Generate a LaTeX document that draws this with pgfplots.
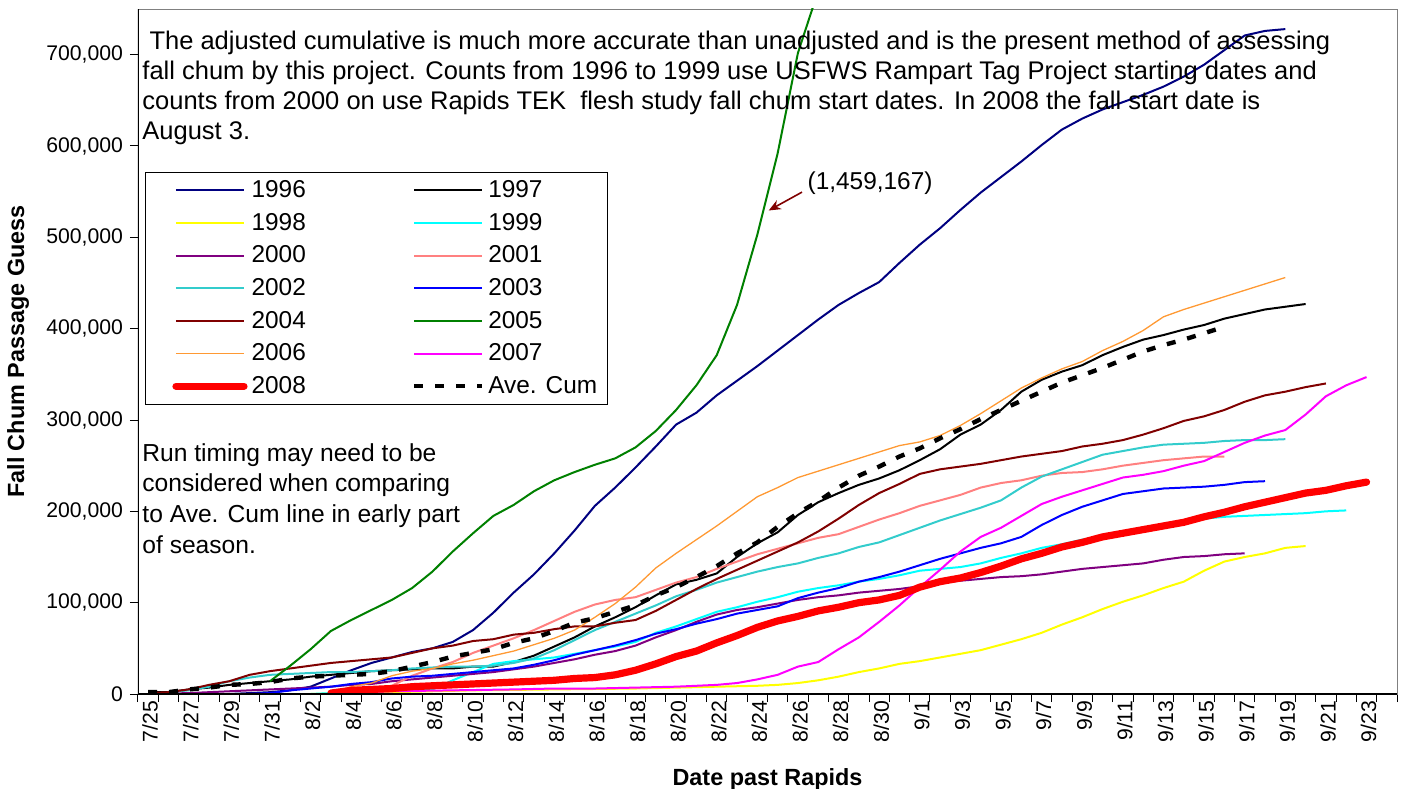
\documentclass[border=0pt]{standalone}
\usepackage{fontspec}
\setmainfont{Liberation Sans}
\usepackage{pgfplots}
\pgfplotsset{compat=1.18}
\usetikzlibrary{arrows.meta}

\definecolor{c1996}{HTML}{000080}
\definecolor{c1998}{HTML}{FFFF00}
\definecolor{c1999}{HTML}{00FFFF}
\definecolor{c2000}{HTML}{800080}
\definecolor{c2001}{HTML}{FF8080}
\definecolor{c2002}{HTML}{33CCCC}
\definecolor{c2003}{HTML}{0000FF}
\definecolor{c2004}{HTML}{800000}
\definecolor{c2005}{HTML}{008000}
\definecolor{c2006}{HTML}{FF9933}
\definecolor{c2007}{HTML}{FF00FF}
\definecolor{c2008}{HTML}{FF0000}

\begin{document}
\begin{tikzpicture}
\begin{axis}[
  name=ax,
  scale only axis,
  width=629.5pt, height=342.5pt,
  xmin=-0.5, xmax=61.5, ymin=0, ymax=750000,
  clip=true,
  axis line style={draw=gray},
  tick style={black, line width=0.5pt},
  tick align=outside, tick pos=left,
  major tick length=4pt,
  xtick={-0.5,0.5,...,61.5},
  xticklabels={},
  extra x ticks={0,2,...,60},
  extra x tick labels={7/25,7/27,7/29,7/31,8/2,8/4,8/6,8/8,8/10,8/12,8/14,8/16,8/18,8/20,8/22,8/24,8/26,8/28,8/30,9/1,9/3,9/5,9/7,9/9,9/11,9/13,9/15,9/17,9/19,9/21,9/23},
  extra x tick style={major tick length=0pt, tick label style={rotate=90, anchor=east, yshift=-1pt}},
  ytick={0,100000,200000,300000,400000,500000,600000,700000},
  scaled y ticks=false,
  yticklabel style={/pgf/number format/.cd, fixed, 1000 sep={,}, assume math mode=true},
  tick label style={font=\fontsize{10.6}{12}\selectfont},
  xlabel={Date past Rapids},
  ylabel={Fall Chum Passage Guess},
  xlabel style={at={(axis description cs:0.5,-0.1343)}, anchor=base, font=\bfseries\fontsize{11.7}{14}\selectfont},
  ylabel style={at={(axis description cs:-0.0953,0.5)}, anchor=center, rotate=0, font=\bfseries\fontsize{11.7}{14}\selectfont},
  legend columns=2,
  legend cell align=left,
  legend image code/.code={\path (0pt,0pt); \draw[#1] (10.5pt,0pt) -- (44.5pt,0pt);},
  legend style={at={(axis description cs:0.00556,0.762)}, anchor=north west, draw=black, fill=white,
    font=\fontsize{12.2}{14}\selectfont, inner xsep=3pt, inner ysep=2pt, row sep=2.3pt,
    /tikz/every even column/.append style={column sep=40.5pt}},
  every axis plot/.append style={no markers, line join=round},
]
% 1996
\addplot[c1996, line width=1pt] coordinates {(4,0)(5,1000)(6,2000)(7,4000)(8,8000)(9,17000)(10,26000)(11,34000)(12,40000)(13,46000)(14,50000)(15,57000)(16,70000)(17,89000)(18,111000)(19,131000)(20,154000)(21,179000)(22,206000)(23,226000)(24,248000)(25,271000)(26,295000)(27,308000)(28,327000)(29,343000)(30,359000)(31,376000)(32,393000)(33,410000)(34,426000)(35,439000)(36,451000)(37,472000)(38,492000)(39,510000)(40,530000)(41,549000)(42,566000)(43,583000)(44,601000)(45,618000)(46,630000)(47,640000)(48,648000)(49,656000)(50,665000)(51,676000)(52,689000)(53,705000)(54,721000)(55,726000)(56,728000)};
% 1997
\addplot[black, line width=1pt] coordinates {(0,2000)(1,2000)(2,5000)(3,7000)(4,10000)(5,12000)(6,14000)(7,16000)(8,19000)(9,21000)(10,23000)(11,25000)(12,26000)(13,27000)(14,28000)(15,28000)(16,30000)(17,30000)(18,35000)(19,42000)(20,52000)(21,62000)(22,74000)(23,84000)(24,95000)(25,108000)(26,120000)(27,125000)(28,132000)(29,150000)(30,165000)(31,177000)(32,196000)(33,210000)(34,220000)(35,229000)(36,236000)(37,245000)(38,256000)(39,268000)(40,284000)(41,295000)(42,311000)(43,331000)(44,344000)(45,353000)(46,360000)(47,371000)(48,380000)(49,388000)(50,393000)(51,399000)(52,404000)(53,411000)(54,416000)(55,421000)(56,424000)(57,427000)};
% 1998
\addplot[c1998, line width=1pt] coordinates {(8,0)(10,1000)(12,2000)(14,3000)(16,4000)(18,4500)(20,5000)(22,5500)(24,6000)(26,7000)(28,8000)(30,9000)(31,10000)(32,12000)(33,15000)(34,19000)(35,24000)(36,28000)(37,33000)(38,36000)(39,40000)(40,44000)(41,48000)(42,54000)(43,60000)(44,67000)(45,76000)(46,84000)(47,93000)(48,101000)(49,108000)(50,116000)(51,123000)(52,135000)(53,145000)(54,150000)(55,154000)(56,160000)(57,162000)};
% 1999
\addplot[c1999, line width=1pt] coordinates {(8,0)(9,1000)(10,2000)(11,3000)(12,4000)(13,4500)(14,5000)(15,15000)(16,24000)(17,33000)(18,36000)(19,38000)(20,40000)(21,44000)(22,48000)(23,52000)(24,57000)(25,67000)(26,74000)(27,82000)(28,90000)(29,95000)(30,101000)(31,106000)(32,112000)(33,116000)(34,119000)(35,123000)(36,126000)(37,130000)(38,135000)(39,137000)(40,139000)(41,143000)(42,149000)(43,154000)(44,160000)(45,164000)(46,169000)(47,173000)(48,177000)(49,181000)(50,184000)(51,187000)(52,192000)(53,194000)(54,195000)(55,196000)(56,197000)(57,198000)(58,200000)(59,201000)};
% 2000
\addplot[c2000, line width=1pt] coordinates {(0,0)(1,500)(2,1000)(3,2000)(4,3000)(5,4000)(6,5000)(7,6000)(8,7000)(9,8000)(10,10000)(11,11000)(12,14000)(13,16000)(14,18000)(15,20000)(16,22000)(17,24000)(18,27000)(19,30000)(20,34000)(21,38000)(22,43000)(23,47000)(24,53000)(25,62000)(26,70000)(27,79000)(28,87000)(29,92000)(30,95000)(31,99000)(32,103000)(33,106000)(34,108000)(35,111000)(36,113000)(37,115000)(38,118000)(39,122000)(40,124000)(41,126000)(42,128000)(43,129000)(44,131000)(45,134000)(46,137000)(47,139000)(48,141000)(49,143000)(50,147000)(51,150000)(52,151000)(53,153000)(54,154000)};
% 2001
\addplot[c2001, line width=1pt] coordinates {(11,0)(12,9000)(13,20000)(14,28000)(15,35000)(16,45000)(17,53000)(18,61000)(19,70000)(20,80000)(21,90000)(22,98000)(23,103000)(24,106000)(25,114000)(26,122000)(27,128000)(28,137000)(29,145000)(30,153000)(31,159000)(32,165000)(33,171000)(34,175000)(35,183000)(36,191000)(37,198000)(38,206000)(39,212000)(40,218000)(41,226000)(42,231000)(43,234000)(44,239000)(45,242000)(46,243000)(47,246000)(48,250000)(49,253000)(50,256000)(51,258000)(52,260000)(53,260000)};
% 2002
\addplot[c2002, line width=1pt] coordinates {(1,2000)(2,4000)(3,8000)(4,14000)(5,18000)(6,21000)(7,22000)(8,23000)(9,24000)(10,24000)(11,25000)(12,26000)(13,28000)(14,29000)(15,30000)(16,30000)(17,31000)(18,34000)(19,39000)(20,48000)(21,59000)(22,70000)(23,79000)(24,88000)(25,97000)(26,107000)(27,114000)(28,122000)(29,128000)(30,134000)(31,139000)(32,143000)(33,149000)(34,154000)(35,161000)(36,166000)(37,174000)(38,182000)(39,190000)(40,197000)(41,204000)(42,212000)(43,226000)(44,238000)(45,246000)(46,254000)(47,262000)(48,266000)(49,270000)(50,273000)(51,274000)(52,275000)(53,277000)(54,278000)(55,278000)(56,279000)};
% 2003
\addplot[c2003, line width=1pt] coordinates {(5,0)(6,1000)(7,4000)(8,6000)(9,8000)(10,11000)(11,13000)(12,17000)(13,19000)(14,20000)(15,22000)(16,24000)(17,26000)(18,28000)(19,32000)(20,37000)(21,43000)(22,48000)(23,53000)(24,59000)(25,66000)(26,71000)(27,77000)(28,82000)(29,88000)(30,92000)(31,96000)(32,105000)(33,111000)(34,116000)(35,123000)(36,128000)(37,134000)(38,141000)(39,148000)(40,154000)(41,160000)(42,165000)(43,172000)(44,185000)(45,196000)(46,205000)(47,212000)(48,219000)(49,222000)(50,225000)(51,226000)(52,227000)(53,229000)(54,232000)(55,233000)};
% 2004
\addplot[c2004, line width=1pt] coordinates {(0,1000)(1,2000)(2,5000)(3,10000)(4,14000)(5,21000)(6,25000)(7,28000)(8,31000)(9,34000)(10,36000)(11,38000)(12,40000)(13,45000)(14,50000)(15,53000)(16,58000)(17,60000)(18,65000)(19,67000)(20,71000)(21,74000)(22,74000)(23,78000)(24,81000)(25,91000)(26,103000)(27,115000)(28,126000)(29,136000)(30,146000)(31,156000)(32,166000)(33,178000)(34,192000)(35,207000)(36,220000)(37,230000)(38,241000)(39,246000)(40,249000)(41,252000)(42,256000)(43,260000)(44,263000)(45,266000)(46,271000)(47,274000)(48,278000)(49,284000)(50,291000)(51,299000)(52,304000)(53,311000)(54,320000)(55,327000)(56,331000)(57,336000)(58,340000)};
% 2005
\addplot[c2005, line width=1pt] coordinates {(6,14000)(7,31000)(8,49000)(9,69000)(10,81000)(11,92000)(12,103000)(13,116000)(14,134000)(15,156000)(16,176000)(17,195000)(18,207000)(19,222000)(20,234000)(21,243000)(22,251000)(23,258000)(24,270000)(25,288000)(26,311000)(27,338000)(28,371000)(29,426000)(30,503000)(31,592000)(32,702000)(33,770000)(34,900000)};
% 2006
\addplot[c2006, line width=0.65pt] coordinates {(9,1000)(10,8000)(11,12000)(12,20000)(13,25000)(14,28000)(15,33000)(16,37000)(17,42000)(18,47000)(19,54000)(20,61000)(21,70000)(22,84000)(23,99000)(24,117000)(25,138000)(26,154000)(27,169000)(28,184000)(29,200000)(30,216000)(31,226000)(32,237000)(33,244000)(34,251000)(35,258000)(36,265000)(37,272000)(38,276000)(39,283000)(40,294000)(41,307000)(42,321000)(43,335000)(44,346000)(45,356000)(46,364000)(47,376000)(48,386000)(49,398000)(50,413000)(51,421000)(52,428000)(53,435000)(54,442000)(55,449000)(56,456000)};
% 2007
\addplot[c2007, line width=1pt] coordinates {(9,1000)(12,3000)(15,4000)(18,5000)(20,6000)(22,6000)(24,7000)(26,8000)(27,9000)(28,10000)(29,12000)(30,16000)(31,21000)(32,30000)(33,35000)(34,49000)(35,62000)(36,79000)(37,97000)(38,117000)(39,136000)(40,156000)(41,172000)(42,182000)(43,195000)(44,208000)(45,216000)(46,223000)(47,230000)(48,237000)(49,240000)(50,244000)(51,250000)(52,255000)(53,265000)(54,275000)(55,283000)(56,289000)(57,306000)(58,326000)(59,338000)(60,347000)};
% 2008
\addplot[c2008, line width=3.6pt, line cap=round] coordinates {(9,1000)(10,4000)(11,5000)(12,6000)(13,8000)(14,9000)(15,10000)(16,11000)(17,12000)(18,13000)(19,14000)(20,15000)(21,17000)(22,18000)(23,21000)(24,26000)(25,33000)(26,41000)(27,47000)(28,56000)(29,64000)(30,73000)(31,80000)(32,85000)(33,91000)(34,95000)(35,100000)(36,103000)(37,108000)(38,117000)(39,123000)(40,127000)(41,133000)(42,140000)(43,148000)(44,154000)(45,161000)(46,166000)(47,172000)(48,176000)(49,180000)(50,184000)(51,188000)(52,194000)(53,199000)(54,205000)(55,210000)(56,215000)(57,220000)(58,223000)(59,228000)(60,232000)};
% Ave. Cum
\addplot[black, line width=2.2pt, dash pattern=on 4.5pt off 6pt] coordinates {(0,2000)(1,2000)(2,5000)(3,7000)(4,10000)(5,11000)(6,13000)(7,17000)(8,19000)(9,20000)(10,21000)(11,22000)(12,25000)(13,30000)(14,35000)(15,41000)(16,45000)(17,49000)(18,56000)(19,61000)(20,69000)(21,78000)(22,83000)(23,90000)(24,97000)(25,108000)(26,117000)(27,128000)(28,140000)(29,154000)(30,166000)(31,183000)(32,198000)(33,211000)(34,226000)(35,239000)(36,249000)(37,260000)(38,269000)(39,280000)(40,290000)(41,301000)(42,311000)(43,321000)(44,331000)(45,341000)(46,349000)(47,357000)(48,366000)(49,375000)(50,382000)(51,388000)(52,395000)(53,402000)};
\legend{1996,1997,1998,1999,2000,2001,2002,2003,2004,2005,2006,2007,2008,Ave. Cum}

\draw[black, line width=0.6pt] (rel axis cs:0,0) -- (rel axis cs:0,1);
\draw[black, line width=0.6pt] (rel axis cs:0,0) -- (rel axis cs:1,0);

\node[anchor=base west, align=left, inner sep=0pt, font=\fontsize{12.75}{15}\selectfont] at (axis description cs:0.0032,0.8088)
 {\ The adjusted cumulative is much more accurate than unadjusted and is the present method of assessing\\
  fall chum by this project. Counts from 1996 to 1999 use USFWS Rampart Tag Project starting dates and\\
  counts from 2000 on use Rapids TEK\ \ flesh study fall chum start dates. In 2008 the fall start date is\\
  August 3.};
\node[anchor=base west, align=left, inner sep=0pt, font=\fontsize{12.3}{15.3}\selectfont] at (axis description cs:0.0032,0.2058)
 {Run timing may need to be\\ considered when comparing\\ to Ave. Cum line in early part\\ of season.};
\node[anchor=base west, inner sep=0pt, font=\fontsize{12.2}{14}\selectfont] at (axis cs:32.46,552000) {(1,459,167)};
\draw[color=c2004, line width=0.8pt, -{Stealth[length=6pt,width=5pt]}] (axis cs:32.2,549500) -- (axis cs:30.56,529400);
\end{axis}
\pgfresetboundingbox
\path[use as bounding box] ([shift={(-69pt,-47pt)}]ax.south west) rectangle ([shift={(3.5pt,4.5pt)}]ax.north east);
\end{tikzpicture}
\end{document}
